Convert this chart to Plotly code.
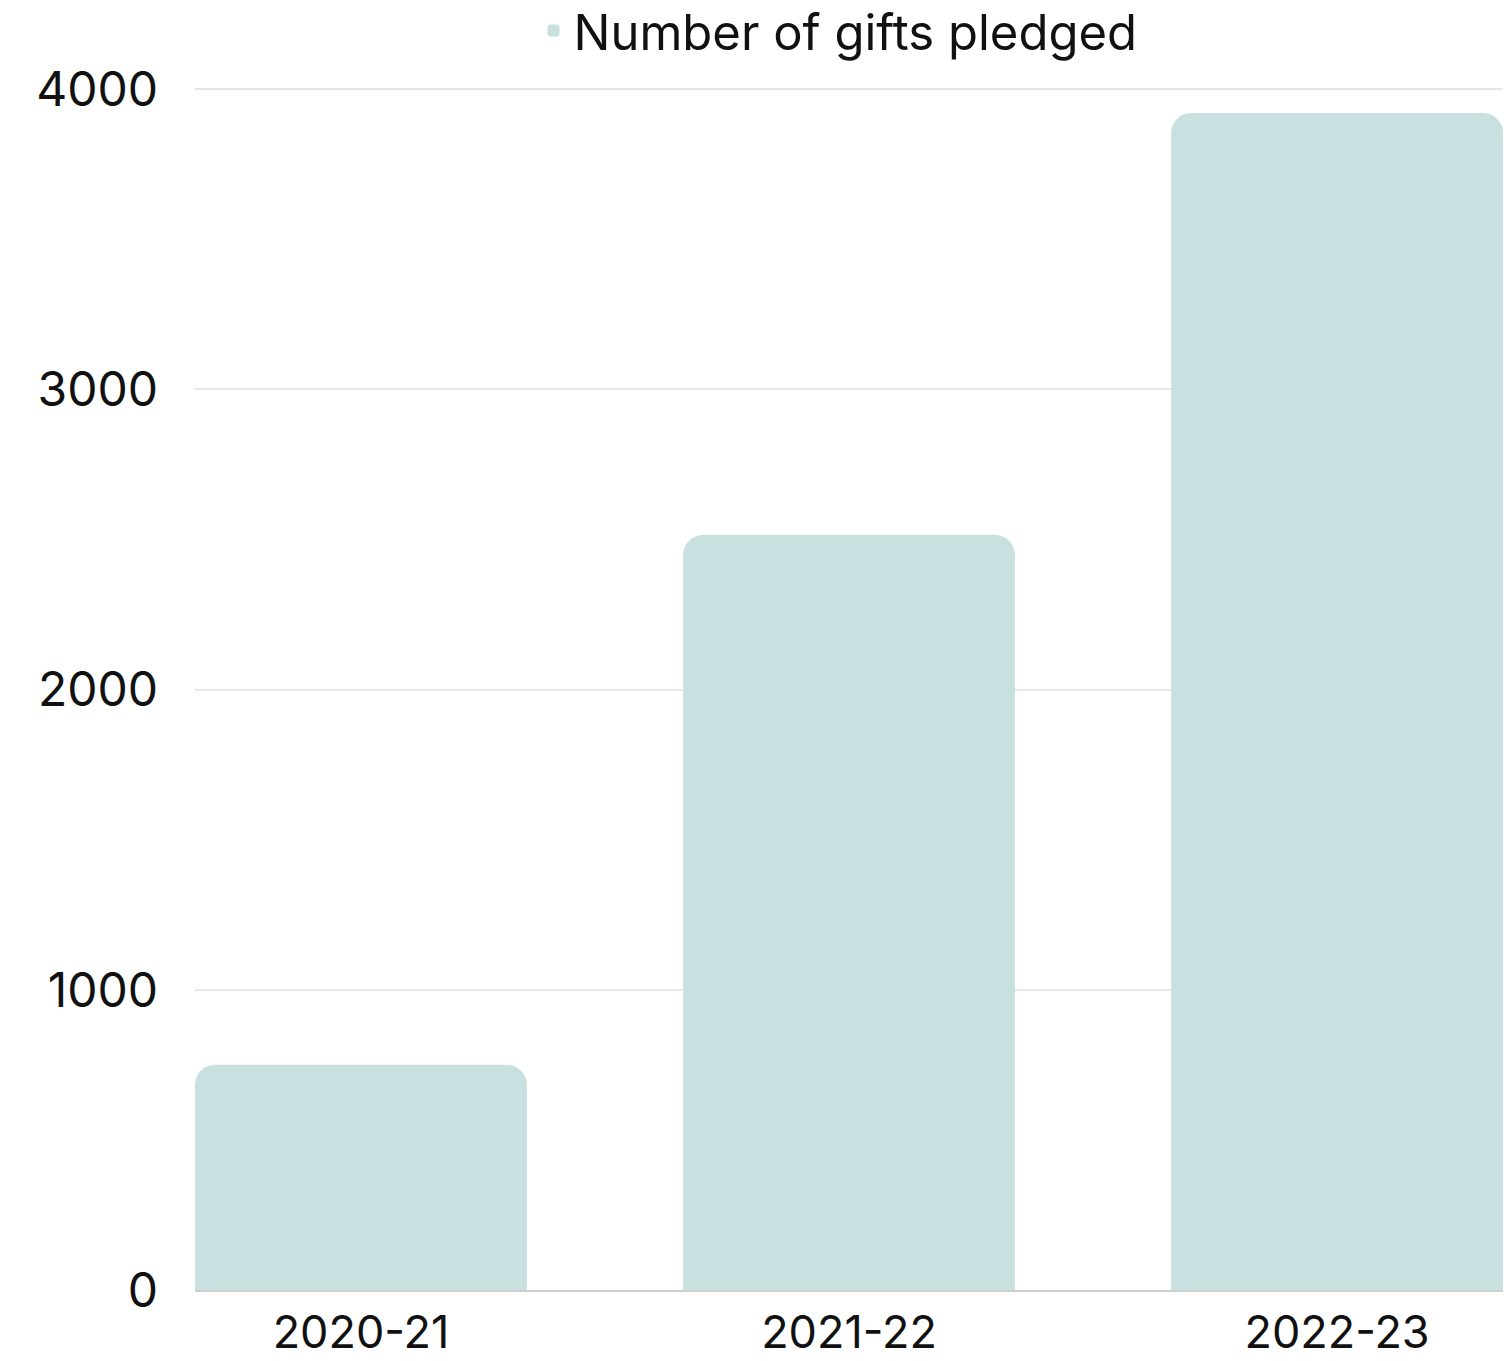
import plotly.graph_objects as go

categories = ["2020-21", "2021-22", "2022-23"]
gifts_pledged = [750, 2515, 3920]
y_ticks = [0, 1000, 2000, 3000, 4000]

FONT = "Inter, Lato, sans-serif"
FS = 48

fig = go.Figure()
fig.add_trace(go.Bar(
    x=categories,
    y=gifts_pledged,
    name="Number of gifts pledged",
    marker=dict(color="#c8e0e0", line=dict(width=0)),
    width=0.68,
    showlegend=True,
))

fig.update_layout(
    template="none",
    width=1507,
    height=1361,
    margin=dict(l=195, r=4, t=86, b=71, autoexpand=False),
    paper_bgcolor="white",
    plot_bgcolor="white",
    barcornerradius=20,
    font=dict(family=FONT, size=FS, color="#111111"),
    showlegend=True,
    legend=dict(
        orientation="h",
        xref="paper", yref="paper",
        x=0.4916, xanchor="center",
        y=1.078, yanchor="top",
        font=dict(family=FONT, size=49, color="#111111"),
        itemwidth=30,
        itemsizing="constant",
        bgcolor="rgba(0,0,0,0)",
    ),
    xaxis=dict(
        range=[-0.34, 2.34],
        automargin=False,
        showgrid=False,
        showline=True,
        linecolor="#cfcfcf",
        linewidth=2,
        ticks="",
        ticklabelstandoff=2,
        tickfont=dict(family=FONT, size=45, color="#111111"),
        fixedrange=True,
    ),
    yaxis=dict(
        range=[0, 4010],
        automargin=False,
        tickvals=y_ticks,
        ticktext=[str(v) for v in y_ticks],
        showgrid=True,
        gridcolor="#e6e6e6",
        gridwidth=2,
        zeroline=False,
        showline=False,
        ticks="",
        ticklabelstandoff=36,
        tickfont=dict(family=FONT, size=FS, color="#111111"),
        fixedrange=True,
    ),
)

fig.write_html(
    "out.html",
    config={"displayModeBar": False},
    post_script="document.body.style.margin='0';",
)
